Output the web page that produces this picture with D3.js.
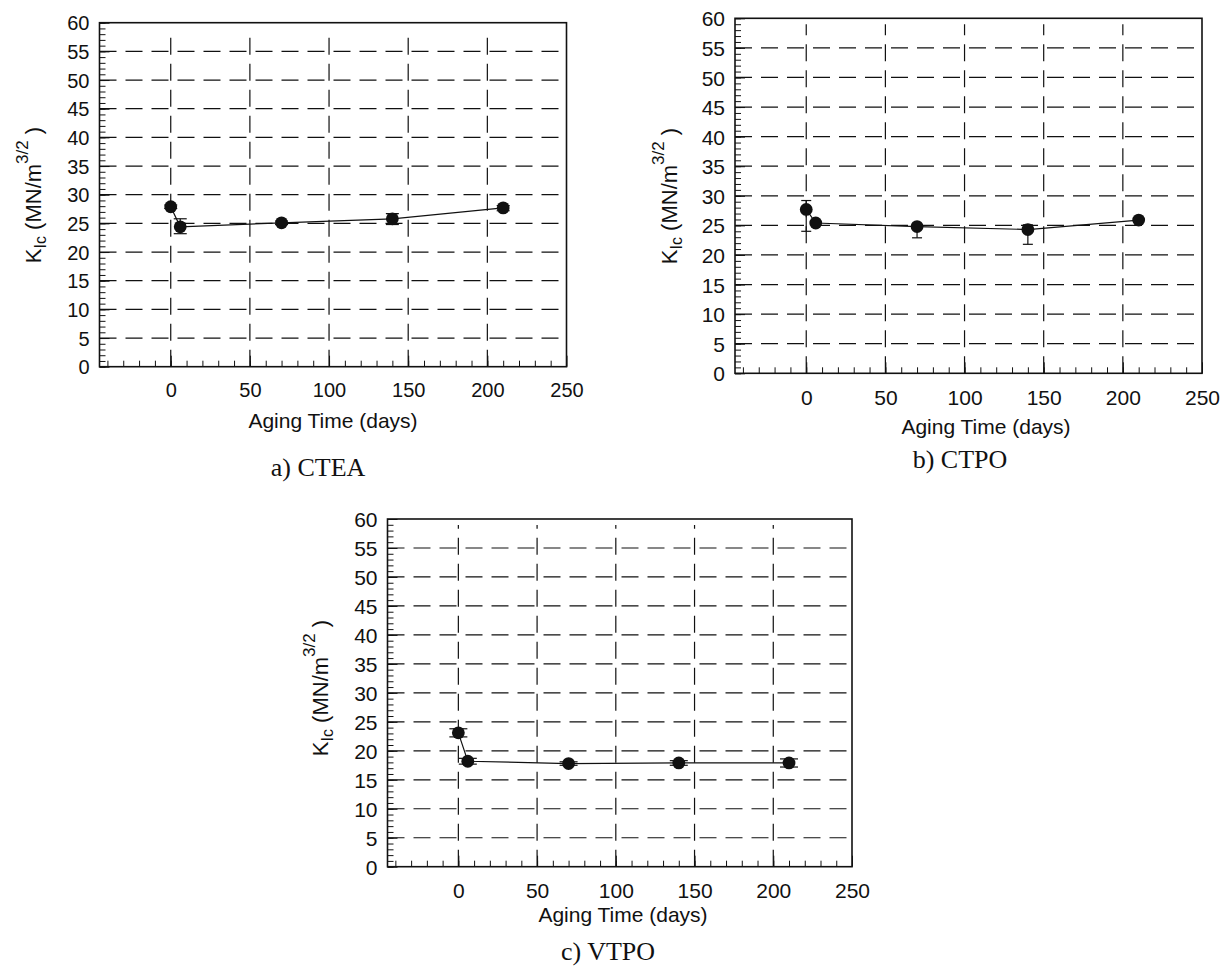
<!DOCTYPE html>
<html>
<head>
<meta charset="utf-8">
<script src="https://cdn.jsdelivr.net/npm/d3@7"></script>
<style>
  html, body { margin: 0; padding: 0; background: #fff; }
  svg { display: block; }
</style>
</head>
<body>
<svg id="chart" width="1226" height="969"></svg>
<script>
// Aging time (days) at which each specimen set was tested
const agingDays = [0, 6, 70, 140, 210];

// Fracture toughness K_Ic (MN/m^3/2): mean, lower and upper error-bar ends
const cteaKic  = [27.9, 24.4, 25.1, 25.8, 27.7];
const cteaLow  = [27.6, 23.2, 24.8, 24.8, 27.2];
const cteaHigh = [28.2, 25.8, 25.4, 26.7, 28.1];

const ctpoKic  = [27.7, 25.4, 24.8, 24.3, 25.9];
const ctpoLow  = [24.0, 25.1, 22.9, 21.8, 25.5];
const ctpoHigh = [29.2, 25.7, 25.1, 25.1, 26.3];

const vtpoKic  = [23.1, 18.2, 17.8, 17.9, 17.9];
const vtpoLow  = [22.4, 17.7, 17.5, 17.5, 17.2];
const vtpoHigh = [23.8, 18.7, 18.1, 18.3, 18.6];

const xTickValues = [0, 50, 100, 150, 200, 250];
const yTickValues = [0, 5, 10, 15, 20, 25, 30, 35, 40, 45, 50, 55, 60];
const xGridValues = [0, 50, 100, 150, 200];
const yGridValues = [5, 10, 15, 20, 25, 30, 35, 40, 45, 50, 55];
const xDomain = [-45, 250];
const yDomain = [0, 60];

const captions = ["a) CTEA", "b) CTPO", "c) VTPO"];
const xTitle = "Aging Time (days)";

const SANS = "'Liberation Sans', Arial, Helvetica, sans-serif";
const SERIF = "'Liberation Serif', 'Times New Roman', serif";
const INK = "#111";

// frame and text placement for each of the three panels
const panels = [
  { kic: cteaKic, lo: cteaLow, hi: cteaHigh, caption: captions[0],
    left: 99.5, right: 566.5, top: 22.7, bottom: 366.7,
    yLabelX: 41, yLabelY: 195, titleX: 333, titleY: 428,
    capX: 318, capY: 476, capW: 13, tickFont: 20 },
  { kic: ctpoKic, lo: ctpoLow, hi: ctpoHigh, caption: captions[1],
    left: 735, right: 1202, top: 18.3, bottom: 373.3,
    yLabelX: 677, yLabelY: 196, titleX: 986, titleY: 434,
    capX: 960, capY: 468, capW: 10, tickFont: 21 },
  { kic: vtpoKic, lo: vtpoLow, hi: vtpoHigh, caption: captions[2],
    left: 387.5, right: 852, top: 519, bottom: 866.7,
    yLabelX: 328, yLabelY: 688, titleX: 623, titleY: 922,
    capX: 608, capY: 960, capW: 18, tickFont: 21 }
];

const svg = d3.select("#chart");

panels.forEach(p => {
  const x = d3.scaleLinear().domain(xDomain).range([p.left, p.right]);
  const y = d3.scaleLinear().domain(yDomain).range([p.bottom, p.top]);
  const g = svg.append("g");

  // dashed grid
  g.append("g").selectAll("line").data(yGridValues).join("line")
    .attr("x1", p.left).attr("x2", p.right)
    .attr("y1", d => y(d)).attr("y2", d => y(d))
    .attr("stroke", INK).attr("stroke-width", 1.2)
    .attr("stroke-dasharray", "17,9");
  g.append("g").selectAll("line").data(xGridValues).join("line")
    .attr("x1", d => x(d)).attr("x2", d => x(d))
    .attr("y1", p.bottom).attr("y2", p.top + 6)
    .attr("stroke", INK).attr("stroke-width", 1.2)
    .attr("stroke-dasharray", "17,9");

  // minor ticks (inside the frame)
  const yMinor = d3.axisLeft(y).tickValues(d3.range(0, 61, 1))
    .tickSizeInner(-6).tickSizeOuter(0).tickFormat("");
  g.append("g").attr("transform", `translate(${p.left},0)`).call(yMinor)
    .call(s => s.select(".domain").remove())
    .selectAll("line").attr("stroke", INK).attr("stroke-width", 1);

  const xMinor = d3.axisBottom(x).tickValues(d3.range(-40, 250, 10))
    .tickSizeInner(-6).tickSizeOuter(0).tickFormat("");
  g.append("g").attr("transform", `translate(0,${p.bottom})`).call(xMinor)
    .call(s => s.select(".domain").remove())
    .selectAll("line").attr("stroke", INK).attr("stroke-width", 1);

  // major ticks with labels
  const yAxis = d3.axisLeft(y).tickValues(yTickValues)
    .tickSizeInner(-10).tickSizeOuter(0).tickPadding(10).tickFormat(d3.format("d"));
  const ya = g.append("g").attr("transform", `translate(${p.left},0)`).call(yAxis);
  ya.select(".domain").remove();
  ya.selectAll("line").attr("stroke", INK).attr("stroke-width", 1);
  ya.selectAll("text").attr("font-family", SANS).attr("font-size", p.tickFont)
    .attr("fill", INK).attr("dy", "0.36em");

  const xAxis = d3.axisBottom(x).tickValues(xTickValues)
    .tickSizeInner(-11).tickSizeOuter(0).tickPadding(16.5).tickFormat(d3.format("d"));
  const xa = g.append("g").attr("transform", `translate(0,${p.bottom})`).call(xAxis);
  xa.select(".domain").remove();
  xa.selectAll("line").attr("stroke", INK).attr("stroke-width", 1);
  xa.selectAll("text").attr("font-family", SANS).attr("font-size", p.tickFont)
    .attr("fill", INK);

  // frame
  g.append("rect")
    .attr("x", p.left).attr("y", p.top)
    .attr("width", p.right - p.left).attr("height", p.bottom - p.top)
    .attr("fill", "none").attr("stroke", INK).attr("stroke-width", 1.6);

  // data
  const pts = agingDays.map((d, i) => ({ t: d, k: p.kic[i], lo: p.lo[i], hi: p.hi[i] }));

  g.append("path").datum(pts)
    .attr("d", d3.line().x(d => x(d.t)).y(d => y(d.k)))
    .attr("fill", "none").attr("stroke", INK).attr("stroke-width", 1.2);

  const eb = g.append("g").attr("stroke", INK).attr("stroke-width", 1.2);
  eb.selectAll(".stem").data(pts).join("line").attr("class", "stem")
    .attr("x1", d => x(d.t)).attr("x2", d => x(d.t))
    .attr("y1", d => y(d.lo)).attr("y2", d => y(d.hi));
  eb.selectAll(".capLo").data(pts).join("line").attr("class", "capLo")
    .attr("x1", d => x(d.t) - p.capW / 2).attr("x2", d => x(d.t) + p.capW / 2)
    .attr("y1", d => y(d.lo)).attr("y2", d => y(d.lo));
  eb.selectAll(".capHi").data(pts).join("line").attr("class", "capHi")
    .attr("x1", d => x(d.t) - p.capW / 2).attr("x2", d => x(d.t) + p.capW / 2)
    .attr("y1", d => y(d.hi)).attr("y2", d => y(d.hi));

  g.append("g").selectAll("circle").data(pts).join("circle")
    .attr("cx", d => x(d.t)).attr("cy", d => y(d.k)).attr("r", 6.4)
    .attr("fill", INK);

  // axis titles
  g.append("text")
    .attr("x", p.titleX).attr("y", p.titleY)
    .attr("text-anchor", "middle")
    .attr("font-family", SANS).attr("font-size", 21).attr("fill", INK)
    .text(xTitle);

  const yl = g.append("text")
    .attr("transform", `translate(${p.yLabelX},${p.yLabelY}) rotate(-90)`)
    .attr("text-anchor", "middle")
    .attr("font-family", SANS).attr("font-size", 22).attr("fill", INK);
  yl.append("tspan").text("K");
  yl.append("tspan").attr("font-size", 16).attr("dy", 5).text("Ic");
  yl.append("tspan").attr("dy", -5).text(" (MN/m");
  yl.append("tspan").attr("font-size", 17).attr("dy", -13).text("3/2");
  yl.append("tspan").attr("dy", 13).text(" )");

  // panel caption
  g.append("text")
    .attr("x", p.capX).attr("y", p.capY)
    .attr("text-anchor", "middle")
    .attr("font-family", SERIF).attr("font-size", 26).attr("fill", INK)
    .text(p.caption);
});
</script>
</body>
</html>
